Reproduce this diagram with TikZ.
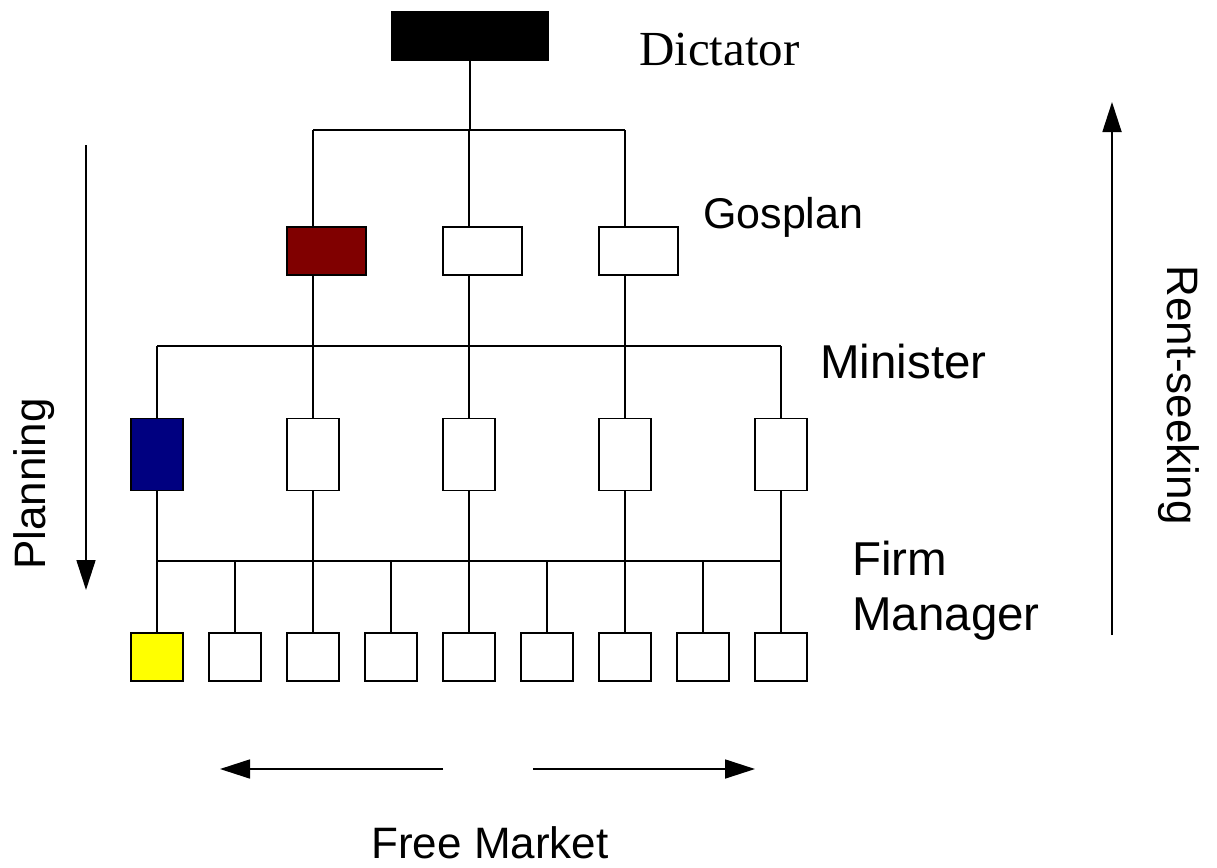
\documentclass[tikz,border=0pt]{standalone}
\usepackage{fontspec}
\setmainfont{Liberation Serif}
\setsansfont{Liberation Sans}
\usetikzlibrary{arrows.meta}
\definecolor{gosred}{HTML}{800000}
\definecolor{minblue}{HTML}{000080}
\definecolor{firmyellow}{HTML}{FFFF00}
\tikzset{
  conn/.style={line width=1.7pt, draw=black},
  bigarrow/.style={line width=1.7pt, -{Triangle[length=30pt,width=19pt]}},
  gbox/.style={draw=black, line width=1.8pt, fill=white, minimum width=79pt, minimum height=48pt, inner sep=0pt, outer sep=0pt},
  mbox/.style={draw=black, line width=1.8pt, fill=white, minimum width=52pt, minimum height=72pt, inner sep=0pt, outer sep=0pt},
  fbox/.style={draw=black, line width=1.8pt, fill=white, minimum width=52pt, minimum height=48pt, inner sep=0pt, outer sep=0pt},
  lab/.style={font=\sffamily\fontsize{44}{44}\selectfont, inner sep=0pt},
  biglab/.style={font=\sffamily\fontsize{47.5}{47.5}\selectfont, inner sep=0pt}
}
\begin{document}
\begin{tikzpicture}[x=1pt,y=-1pt]
\useasboundingbox (0,0) rectangle (1217,867);
\fill[white] (0,0) rectangle (1217,867);
% Dictator
\node[draw=black, fill=black, minimum width=157pt, minimum height=49pt, inner sep=0pt, outer sep=0pt] (dict) at (470,35.5) {};
\node[font=\rmfamily\fontsize{49}{49}\selectfont, inner sep=0pt, anchor=base west] (dictlab) at (639,65) {Dictator};
% Gosplan
\node[gbox, fill=gosred] (g1) at (326.5,251) {};
\node[gbox] (g2) at (482.5,251) {};
\node[gbox] (g3) at (638.5,251) {};
\node[lab, font=\sffamily\fontsize{43}{43}\selectfont, anchor=base west] (goslab) at (703,228) {Gosplan};
% Ministers
\node[mbox, fill=minblue] (m1) at (157,454.5) {};
\node[mbox] (m2) at (313,454.5) {};
\node[mbox] (m3) at (469,454.5) {};
\node[mbox] (m4) at (625,454.5) {};
\node[mbox] (m5) at (781,454.5) {};
\node[biglab, anchor=base west] (minlab) at (820,378) {Minister};
% Firms
\node[fbox, fill=firmyellow] (f1) at (157,657) {};
\foreach \i/\xx in {2/235,3/313,4/391,5/469,6/547,7/625,8/703,9/781}
  \node[fbox] (f\i) at (\xx,657) {};
\node[biglab, anchor=base west] (firmlab) at (852,575) {Firm};
\node[biglab, anchor=base west] (manlab) at (852,630) {Manager};
% buses
\coordinate (bus1) at (470,130);
\coordinate (bus2) at (470,346);
\coordinate (bus3) at (470,561);
\draw[conn] (dict.south) -- (bus1);
\draw[conn] (m2 |- bus1) -- (m4 |- bus1);
\foreach \g/\m in {g1/m2,g2/m3,g3/m4}{
  \draw[conn] (\m |- bus1) -- (\m |- \g.north);
  \draw[conn] (\m |- \g.south) -- (\m.north);
}
\draw[conn] (m1 |- bus2) -- (m5 |- bus2);
\draw[conn] (m1 |- bus2) -- (m1.north);
\draw[conn] (m5 |- bus2) -- (m5.north);
\draw[conn] (m1 |- bus3) -- (m5 |- bus3);
\draw[conn] (m1.south) -- (f1.north);
\draw[conn] (m2.south) -- (f3.north);
\draw[conn] (m3.south) -- (f5.north);
\draw[conn] (m4.south) -- (f7.north);
\draw[conn] (m5.south) -- (f9.north);
\foreach \f in {f2,f4,f6,f8}
  \draw[conn] (\f |- bus3) -- (\f.north);
% Planning arrow
\coordinate (plantop) at (86,145);
\coordinate (planbot) at (86,590);
\draw[bigarrow] (plantop) -- (planbot);
\node[lab, rotate=90, anchor=base] (planlab) at (45,484) {Planning};
% Rent-seeking arrow
\coordinate (rentbot) at (1112,635);
\coordinate (renttop) at (1112,102);
\draw[bigarrow] (rentbot) -- (renttop);
\node[lab, rotate=-90, anchor=base] (rentlab) at (1167,395) {Rent-seeking};
% Free market arrows
\coordinate (fmL1) at (443,769);
\coordinate (fmL2) at (220,769);
\coordinate (fmR1) at (533,769);
\coordinate (fmR2) at (755,769);
\draw[bigarrow] (fmL1) -- (fmL2);
\draw[bigarrow] (fmR1) -- (fmR2);
\node[lab, anchor=base] (fmlab) at (490,858) {Free Market};
\end{tikzpicture}
\end{document}
